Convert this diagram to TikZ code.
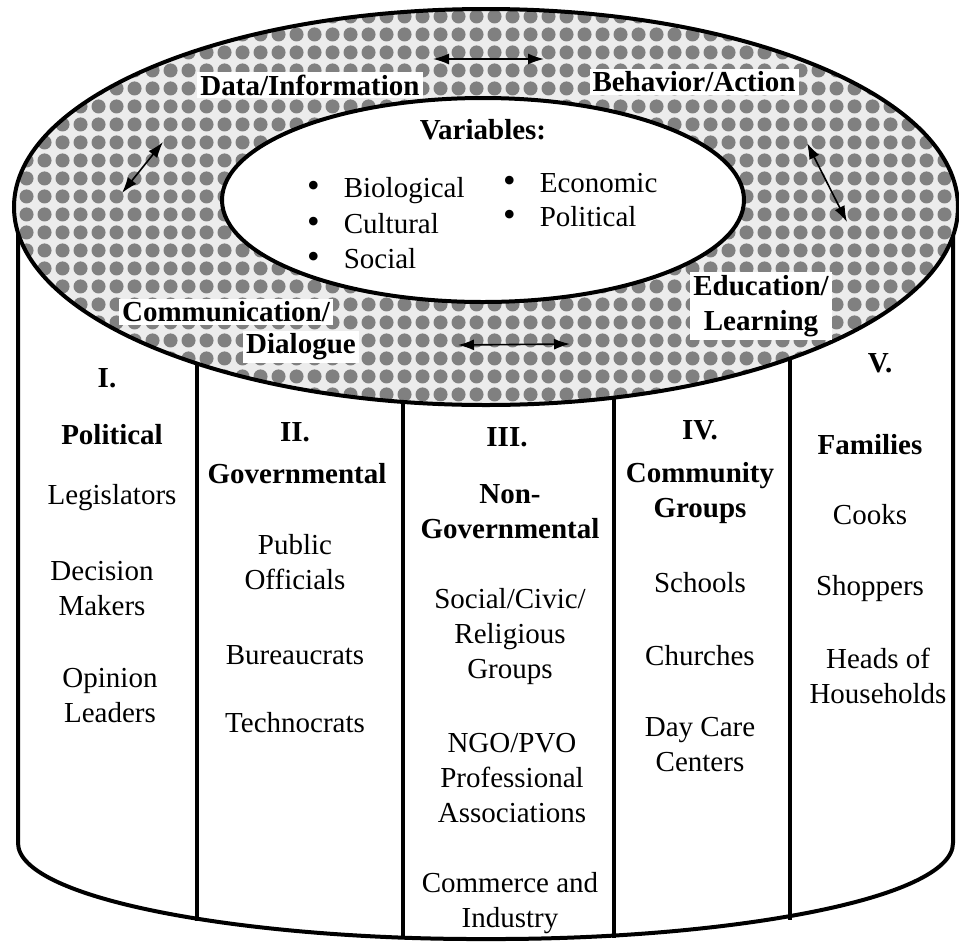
\documentclass[tikz,border=0pt]{standalone}
\usepackage{fontspec}
\setmainfont{Liberation Serif}
\usetikzlibrary{arrows.meta,patterns.meta}
\tikzdeclarepattern{
  name=checks,
  type=uncolored,
  bounding box={(0pt,0pt) and (18pt,18pt)},
  tile size={(18pt,18pt)},
  code={\pgfpathcircle{\pgfqpoint{9pt}{9pt}}{7.4pt}\pgfusepath{fill}}
}
\newcommand\blt{{\fontsize{36}{35}\selectfont\textbullet}\hskip 24pt}
\begin{document}
\begin{tikzpicture}[x=10pt,y=10pt,
  every node/.style={font=\fontsize{29}{35}\selectfont, align=center, inner sep=1pt},
  hd/.style={font=\fontsize{29}{35}\selectfont\bfseries},
  tag/.style={hd, fill=white, inner sep=3pt},
  rim/.style={line width=4pt},
  dbl/.style={{Latex[length=16pt,width=11pt]}-{Latex[length=16pt,width=11pt]}, line width=1.6pt}]
\useasboundingbox (0,0) rectangle (95.9,-94.3);
% top of the drum
\fill [gray!15] (48.6,-20.7) ellipse (47.2 and 19.8);
\fill [pattern=checks, pattern color=black!50] (48.6,-20.7) ellipse (47.2 and 19.8);
\draw [rim] (48.6,-20.7) ellipse (47.2 and 19.8);
\draw [rim, fill=white] (48.3,-20.0) ellipse (26.1 and 10.2);
% side and bottom
\draw [rim] (1.8,-23.3) -- (1.8,-84.3) .. controls (1.8,-90) and (25,-94) .. (48.6,-93.9)
  .. controls (72.2,-94) and (95.3,-90) .. (95.3,-84.3) -- (95.3,-23.6);
\draw [rim] (19.7,-36.3) -- (19.7,-92.1);
\draw [rim] (40.3,-40.2) -- (40.3,-93.8);
\draw [rim] (61.4,-39.8) -- (61.4,-93.8);
\draw [rim] (79.0,-35.8) -- (79.0,-92.0);
% ring labels
\node [tag] (dat) at (31.0,-8.5) {Data/Information};
\node [tag] (beh) at (69.4,-8.2) {Behavior/Action};
\node [tag] (com) at (22.6,-31.2) {Communication/};
\node [tag] (dia) at (30.1,-34.7) {Dialogue};
\node [tag] (edu) at (76.1,-30.6) {Education/\\Learning};
\coordinate (t1) at (43.3,-5.9);
\coordinate (t2) at (54.4,-5.9);
\coordinate (l1) at (12.2,-19.3);
\coordinate (l2) at (16.3,-14.2);
\coordinate (r1) at (80.7,-14.3);
\coordinate (r2) at (84.7,-22.2);
\coordinate (b1) at (45.8,-34.5);
\coordinate (b2) at (57.0,-34.4);
\draw [dbl] (t1) -- (t2);
\draw [dbl] (l1) -- (l2);
\draw [dbl] (r1) -- (r2);
\draw [dbl] (b1) -- (b2);
% variables
\node [hd] (var) at (48.3,-13.0) {Variables:};
\node [anchor=west] (bio) at (30.6,-19.1) {\blt Biological};
\node [anchor=west] (cul) at (30.6,-22.4) {\blt Cultural};
\node [anchor=west] (soc) at (30.6,-25.9) {\blt Social};
\node [anchor=west] (eco) at (50.2,-18.3) {\blt Economic};
\node [anchor=west] (pol) at (50.2,-21.7) {\blt Political};
% I.
\node [hd] (c1) at (10.7,-37.8) {I.};
\node [hd] (c1h) at (11.2,-43.5) {Political};
\node (leg) at (11.2,-49.8) {Legislators};
\node (dec) at (10.2,-58.9) {Decision\\Makers};
\node (opi) at (11.0,-69.6) {Opinion\\Leaders};
% II.
\node [hd] (c2) at (29.5,-43.2) {II.};
\node [hd] (c2h) at (29.7,-47.4) {Governmental};
\node (pub) at (29.5,-56.2) {Public\\Officials};
\node (bur) at (29.5,-65.5) {Bureaucrats};
\node (tec) at (29.5,-72.3) {Technocrats};
% III.
\node [hd] (c3) at (50.7,-43.7) {III.};
\node [hd] (c3h) at (51.0,-51.2) {Non-\\Governmental};
\node (civ) at (51.0,-63.7) {Social/Civic/\\Religious\\Groups};
\node (ngo) at (51.2,-77.8) {NGO/PVO\\Professional\\Associations};
\node (cmi) at (51.0,-90.3) {Commerce and\\Industry};
% IV.
\node [hd] (c4) at (70.0,-43.0) {IV.};
\node [hd] (c4h) at (70.0,-49.3) {Community\\Groups};
\node (sch) at (70.0,-58.3) {Schools};
\node (chu) at (70.0,-65.6) {Churches};
\node (day) at (70.0,-74.5) {Day Care\\Centers};
% V.
\node [hd] (c5) at (88.0,-36.3) {V.};
\node [hd] (c5h) at (87.0,-44.5) {Families};
\node (coo) at (87.0,-51.5) {Cooks};
\node (sho) at (87.0,-58.9) {Shoppers};
\node (hea) at (87.8,-67.6) {Heads of\\Households};
\end{tikzpicture}
\end{document}
